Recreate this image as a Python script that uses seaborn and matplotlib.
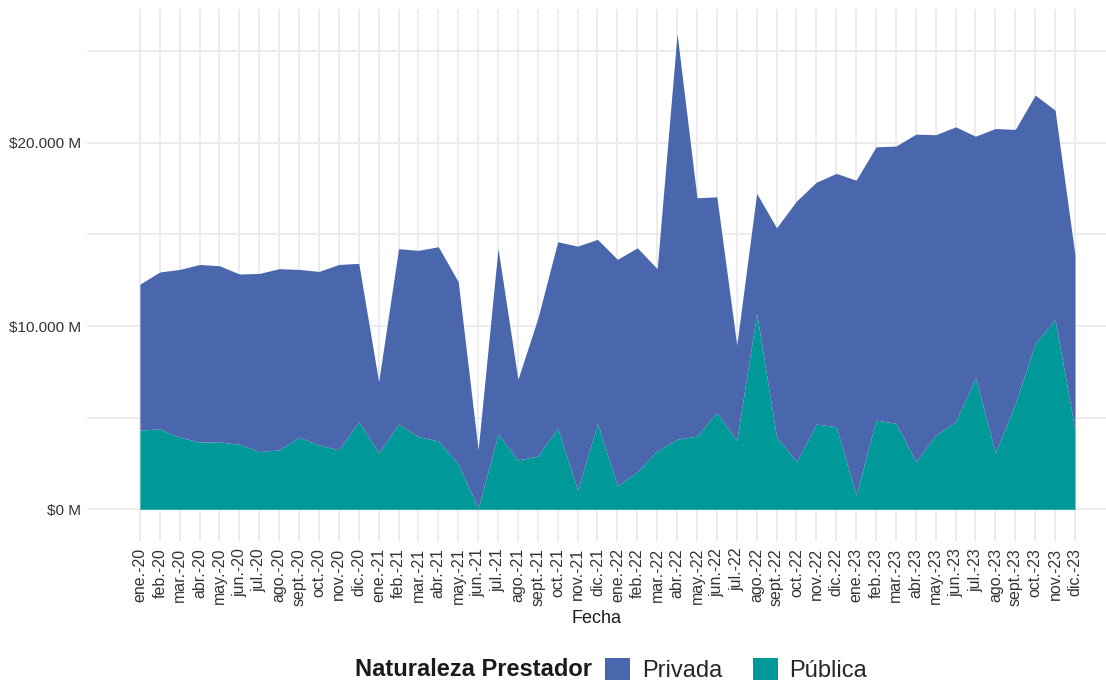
import numpy as np
import pandas as pd
import matplotlib
matplotlib.use("Agg")
import matplotlib.pyplot as plt
import matplotlib.ticker as mticker
from matplotlib.patches import Patch
import seaborn as sns

# month labels (spanish abbreviations) and years
meses = ["ene.", "feb.", "mar.", "abr.", "may.", "jun.",
         "jul.", "ago.", "sept.", "oct.", "nov.", "dic."]
anios = ["20", "21", "22", "23"]
fechas = [m + "-" + a for a in anios for m in meses]

# values in millions of pesos
publica = [4330, 4380, 3930, 3670, 3670, 3550, 3150, 3240, 3930, 3510, 3240, 4780,
           3090, 4650, 3960, 3730, 2470, 50, 4110, 2690, 2910, 4420, 1050, 4690,
           1270, 2050, 3200, 3820, 4000, 5270, 3750, 10690, 3960, 2600, 4650, 4510,
           780, 4870, 4690, 2600, 4050, 4780, 7180, 3090, 5780, 9050, 10360, 4330]
privada = [7960, 8570, 9160, 9690, 9620, 9290, 9720, 9890, 9160, 9470, 10120, 8640,
           3870, 9570, 10170, 10600, 9950, 3190, 10130, 4400, 7510, 10180, 13310, 10040,
           12370, 12220, 9930, 22140, 13000, 11780, 5210, 6550, 11400, 14220, 13200, 13820,
           17180, 14910, 15130, 17870, 16390, 16090, 13180, 17690, 14950, 13550, 11420, 9540]

df = pd.DataFrame({"Fecha": fechas, "Pública": publica, "Privada": privada})

sns.set_theme(style="whitegrid")
plt.rcParams["font.family"] = ["Liberation Sans", "DejaVu Sans"]

col_privada = "#4A67AD"
col_publica = "#009999"

fig = plt.figure(figsize=(11.06, 6.82), dpi=100)
# panel from x=87px to the right edge, y=9px to 541px
ax = fig.add_axes([87 / 1106, 1 - 541 / 682, 1 - 87 / 1106, 532 / 682])

x = np.arange(len(df))
ax.stackplot(x, df["Pública"], df["Privada"],
             colors=[col_publica, col_privada], linewidth=0, zorder=2)

ax.set_xlim(-2.66, 48.56)
ax.set_ylim(-1730, 27300)
ax.set_xticks(x)
ax.set_xticklabels(df["Fecha"], rotation=90, fontsize=11.5, color="#333333")
ax.set_yticks([0, 10000, 20000])
ax.yaxis.set_minor_locator(mticker.FixedLocator([5000, 15000, 25000]))
ax.yaxis.set_major_formatter(mticker.FuncFormatter(
    lambda v, p: "$" + f"{v:,.0f}".replace(",", ".") + " M"))
ax.tick_params(axis="y", which="both", length=0, labelsize=11,
               labelcolor="#333333", pad=4)
ax.tick_params(axis="x", length=0, pad=5)

ax.grid(True, which="major", color="#EBEBEB", linewidth=1.3, zorder=0)
ax.grid(True, which="minor", axis="y", color="#EBEBEB", linewidth=1.3, zorder=0)
ax.set_axisbelow(True)
for s in ax.spines.values():
    s.set_visible(False)

ax.set_xlabel("Fecha", fontsize=13, color="#1a1a1a", labelpad=3)
ax.set_ylabel("")

# legend at the bottom, title to the left of the keys
ley_y = 1 - 670 / 682
fig.text(592 / 1106, ley_y, "Naturaleza Prestador", fontsize=17, fontweight="bold",
         ha="right", va="center", color="#1a1a1a")
handles = [Patch(facecolor=col_privada, edgecolor="none"),
           Patch(facecolor=col_publica, edgecolor="none")]
fig.legend(handles, ["Privada", "Pública"], ncol=2, frameon=False,
           loc="center left", bbox_to_anchor=(605 / 1106, ley_y), fontsize=17,
           handlelength=1.06, handleheight=1.06, handletextpad=0.5,
           columnspacing=1.3, borderaxespad=0.0, borderpad=0.0)

fig.savefig("out.png", dpi=100)
